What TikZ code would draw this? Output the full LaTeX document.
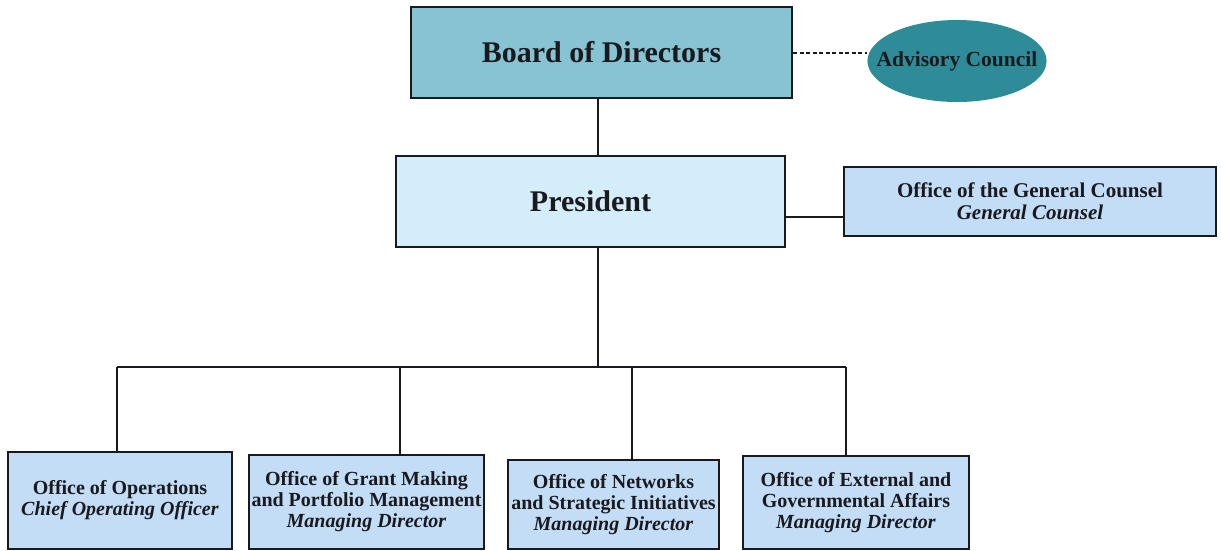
\documentclass[tikz,border=0pt]{standalone}
\usepackage{fontspec}
\setmainfont{Liberation Serif}
\usetikzlibrary{shapes.geometric}
\definecolor{boardfill}{RGB}{134,196,212}
\definecolor{presfill}{RGB}{211,238,250}
\definecolor{officefill}{RGB}{194,221,245}
\definecolor{advfill}{RGB}{46,140,152}
\definecolor{inkc}{RGB}{25,25,30}
\tikzset{
  box/.style={draw=inkc, line width=2pt, inner sep=0pt, align=center, text=inkc},
  topbox/.style={box, font=\fontsize{30}{34}\selectfont\bfseries},
  office/.style={box, fill=officefill, font=\fontsize{20}{21}\selectfont},
  conn/.style={draw=inkc, line width=1.6pt},
}
\begin{document}
\begin{tikzpicture}[x=1pt,y=-1pt]
\useasboundingbox (0,0) rectangle (1221,550);
\node[topbox, fill=boardfill, minimum width=381pt, minimum height=91pt] (board) at (601.5,52.5) {Board of Directors};
\node[ellipse, fill=advfill, minimum height=82pt, inner xsep=-17pt, inner ysep=0pt, text=inkc,
  font=\fontsize{21.5}{23}\selectfont\bfseries] (adv) at (957,61) {Advisory Council};
\node[topbox, fill=presfill, minimum width=389pt, minimum height=91pt] (pres) at (590.5,201.5) {President};
\node[office, font=\fontsize{21}{22}\selectfont, minimum width=372pt, minimum height=69pt] (gc) at (1030,201.5)
  {\textbf{Office of the General Counsel}\\\textit{\textbf{General Counsel}}};
\node[office, minimum width=224pt, minimum height=97pt] (ops) at (120,500.5)
  {\textbf{Office of Operations}\\\textit{\textbf{Chief Operating Officer}}};
\node[office, minimum width=235pt, minimum height=94pt] (grant) at (366.5,502)
  {\textbf{Office of Grant Making}\\\textbf{and Portfolio Management}\\\textit{\textbf{Managing Director}}};
\node[office, minimum width=211pt, minimum height=89pt] (net) at (613.5,504.5)
  {\textbf{Office of Networks}\\\textbf{and Strategic Initiatives}\\\textit{\textbf{Managing Director}}};
\node[office, minimum width=226pt, minimum height=93pt] (ext) at (856,502.5)
  {\textbf{Office of External and}\\\textbf{Governmental Affairs}\\\textit{\textbf{Managing Director}}};
\coordinate (trunk) at (598,0);
\coordinate (gcy) at (0,217);
\coordinate (advy) at (0,53);
\coordinate (busL) at (117,367);
\coordinate (busR) at (846,367);
\coordinate (drop2) at (400,367);
\coordinate (drop3) at (632,367);
\draw[conn, dashed, line width=1.2pt, dash pattern=on 4pt off 2.5pt] (board.east |- advy) -- (adv.west |- advy);
\draw[conn] (board.south -| trunk) -- (pres.north -| trunk);
\draw[conn] (pres.east |- gcy) -- (gc.west |- gcy);
\draw[conn] (pres.south -| trunk) -- (trunk |- busL);
\draw[conn] (busL) -- (busR);
\draw[conn] (busL) -- (ops.north -| busL);
\draw[conn] (drop2) -- (grant.north -| drop2);
\draw[conn] (drop3) -- (net.north -| drop3);
\draw[conn] (busR) -- (ext.north -| busR);
\end{tikzpicture}
\end{document}
